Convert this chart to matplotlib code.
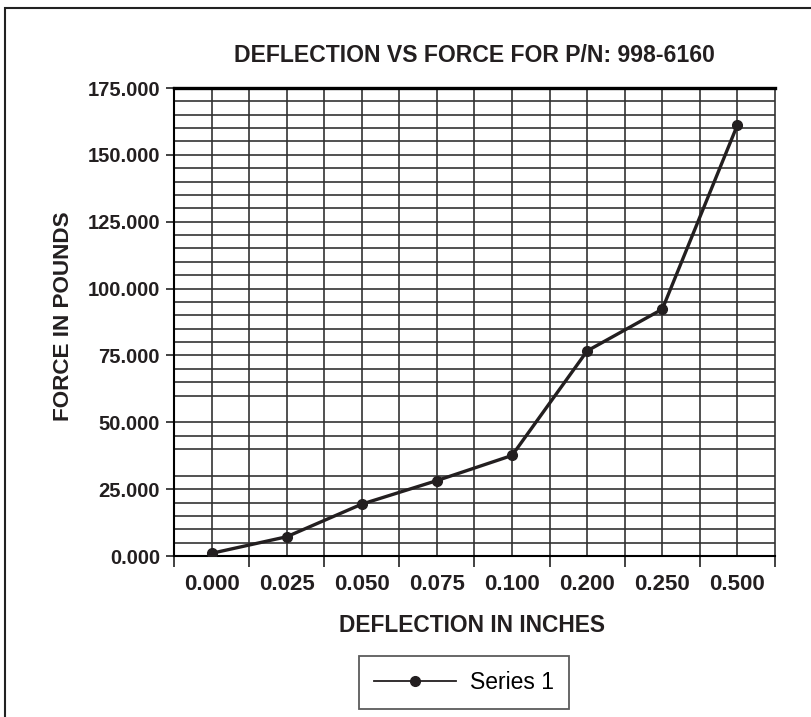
import numpy as np
import matplotlib.pyplot as plt
from matplotlib.patches import Rectangle
from matplotlib.lines import Line2D

plt.rcParams['font.family'] = ['Liberation Sans', 'DejaVu Sans']

# data
categories = ['0.000', '0.025', '0.050', '0.075', '0.100', '0.200', '0.250', '0.500']
force = [1.0, 7.2, 19.4, 28.2, 37.6, 76.7, 92.3, 161.2]
y_ticks = [0, 25, 50, 75, 100, 125, 150, 175]

W, H = 812, 717
fig = plt.figure(figsize=(W / 100, H / 100), dpi=100)
ax = fig.add_axes([174 / W, 1 - 556 / H, (775 - 174) / W, (556 - 88) / H])

# outer frame of the page
fig.patches.append(Rectangle((5 / W, -0.1), 1.2, 1 - 8 / H + 0.1, transform=fig.transFigure,
                             fill=False, edgecolor='#222222', linewidth=1.5))

x = np.arange(len(categories)) + 0.5
grid_col = '#333333'

# horizontal grid every 5 (two lines missing in the original scan)
for v in range(5, 175, 5):
    if v in (35, 55):
        continue
    ax.axhline(v, color=grid_col, lw=1.2, zorder=1)
# vertical grid at category edges and centres
for v in np.arange(0.5, len(categories), 0.5):
    ax.axvline(v, color=grid_col, lw=1.2, zorder=1)

ax.plot(x, force, '-', color='#231f20', lw=2.4, marker='o', markersize=7, zorder=3,
        label='Series 1')

ax.set_xlim(0, len(categories))
ax.set_ylim(0, 175)
ax.set_yticks(y_ticks)
ax.set_yticklabels(['%.3f' % v for v in y_ticks])
ax.set_xticks(np.arange(0, len(categories) + 1))
ax.set_xticklabels([])
ax.set_xticks(x, minor=True)
ax.set_xticklabels(categories, minor=True)
ax.tick_params(axis='x', which='major', length=8, width=1.2, color='#222222')
ax.tick_params(axis='x', which='minor', length=0, pad=13)
ax.tick_params(axis='y', length=6, width=1.2, color='#222222', pad=4)
for lab in ax.get_yticklabels():
    lab.set_fontsize(14.5)
    lab.set_fontweight('bold')
    lab.set_color('#231f20')
for lab in ax.get_xticklabels(minor=True):
    lab.set_fontsize(16)
    lab.set_fontweight('bold')
    lab.set_color('#231f20')

ax.spines['top'].set_linewidth(2.4)
ax.spines['left'].set_linewidth(1.5)
ax.spines['bottom'].set_linewidth(1.5)
ax.spines['right'].set_linewidth(1.2)
ax.spines['right'].set_color(grid_col)

fig.text(474 / W, 1 - 55 / H, 'DEFLECTION VS FORCE FOR P/N: 998-6160', ha='center', va='center',
         fontsize=16.6, fontweight='bold', color='#231f20')
fig.text(472 / W, 1 - 626 / H, 'DEFLECTION IN INCHES', ha='center', va='center',
         fontsize=16.4, fontweight='bold', color='#231f20')
fig.text(64 / W, 1 - 316 / H, 'FORCE IN POUNDS', ha='center', va='center', rotation=90,
         fontsize=16.2, fontweight='bold', color='#231f20')

labels = ax.get_legend_handles_labels()[1]
lh = Line2D([], [], color='#231f20', lw=1.3, marker='o', markersize=7)
leg = fig.legend([lh], labels, loc='center', bbox_to_anchor=(464 / W, 1 - 682.5 / H),
                 fontsize=16.5, frameon=True, fancybox=False, handlelength=3.6,
                 borderpad=0.65, borderaxespad=0, handletextpad=0.6)
leg.get_frame().set_edgecolor('#333333')
leg.get_frame().set_linewidth(1.3)

fig.savefig('out.png', dpi=100)
